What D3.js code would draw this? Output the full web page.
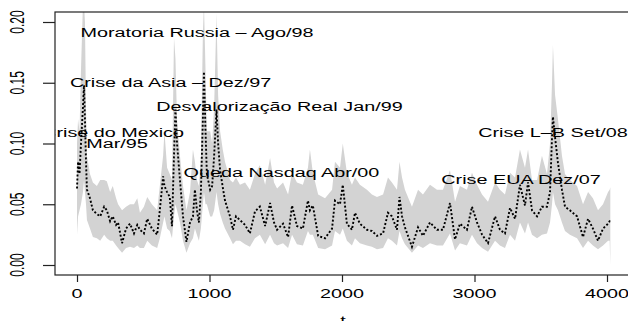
<!DOCTYPE html>
<html>
<head>
<meta charset="utf-8">
<script src="https://cdn.jsdelivr.net/npm/d3@7"></script>
<style>
  body { margin: 0; background: #fff; }
  svg { display: block; }
  text { font-family: "Liberation Sans", Arial, sans-serif; fill: #000; }
</style>
</head>
<body>
<svg id="vol-vis" width="628" height="321"></svg>
<script>
// time index (days)
const tIndex = [0, 8, 19, 30, 45, 53, 60, 68, 75, 98, 120, 150, 175, 205, 225, 250, 270, 295, 310, 340,
  370, 400, 430, 455, 475, 505, 530, 565, 605, 625, 650, 660, 680, 700, 717, 732, 743, 755, 777, 800,
  826, 853, 875, 890, 905, 920, 935, 950, 958, 970, 980, 1005, 1020, 1035, 1053, 1065, 1080, 1100, 1117, 1155,
  1177, 1200, 1230, 1268, 1305, 1343, 1380, 1420, 1457, 1487, 1510, 1555, 1593, 1623, 1660, 1705, 1743, 1758, 1780, 1820,
  1872, 1925, 1947, 1985, 2006, 2037, 2075, 2098, 2135, 2188, 2226, 2264, 2310, 2347, 2377, 2415, 2434, 2453, 2475, 2528,
  2574, 2611, 2664, 2717, 2762, 2815, 2853, 2890, 2943, 2981, 3019, 3057, 3102, 3155, 3192, 3230, 3268, 3306, 3343, 3381,
  3404, 3434, 3472, 3509, 3547, 3570, 3585, 3592, 3608, 3630, 3660, 3683, 3720, 3774, 3819, 3857, 3894, 3932, 3970, 4008,
  4020, 4025];

// estimated volatility (dotted line)
const volMid = [0.063, 0.085, 0.075, 0.100, 0.130, 0.148, 0.120, 0.085, 0.062, 0.055, 0.045, 0.042, 0.040, 0.048, 0.045, 0.036, 0.040, 0.033, 0.035, 0.018,
  0.030, 0.034, 0.026, 0.033, 0.029, 0.026, 0.038, 0.030, 0.025, 0.045, 0.073, 0.065, 0.060, 0.056, 0.032, 0.090, 0.128, 0.100, 0.070, 0.040,
  0.019, 0.035, 0.040, 0.062, 0.045, 0.035, 0.060, 0.120, 0.159, 0.110, 0.075, 0.062, 0.065, 0.090, 0.128, 0.100, 0.078, 0.064, 0.053, 0.040,
  0.029, 0.040, 0.037, 0.033, 0.026, 0.044, 0.048, 0.032, 0.051, 0.035, 0.029, 0.034, 0.023, 0.049, 0.032, 0.030, 0.053, 0.045, 0.049, 0.024,
  0.022, 0.030, 0.053, 0.050, 0.066, 0.034, 0.029, 0.043, 0.034, 0.029, 0.028, 0.024, 0.026, 0.043, 0.040, 0.029, 0.056, 0.040, 0.031, 0.015,
  0.031, 0.024, 0.035, 0.029, 0.029, 0.051, 0.021, 0.034, 0.029, 0.048, 0.035, 0.025, 0.018, 0.040, 0.029, 0.026, 0.047, 0.038, 0.066, 0.049,
  0.068, 0.045, 0.040, 0.048, 0.048, 0.060, 0.105, 0.122, 0.105, 0.084, 0.062, 0.048, 0.045, 0.040, 0.023, 0.038, 0.030, 0.020, 0.030, 0.034,
  0.036, 0.036];

// lower and upper limits (grey band)
const volLow = [0.025, 0.040, 0.045, 0.050, 0.060, 0.070, 0.060, 0.050, 0.037, 0.030, 0.023, 0.022, 0.020, 0.025, 0.022, 0.020, 0.020, 0.016, 0.014, 0.010,
  0.014, 0.015, 0.014, 0.016, 0.014, 0.014, 0.020, 0.016, 0.014, 0.022, 0.035, 0.040, 0.030, 0.028, 0.022, 0.040, 0.050, 0.045, 0.035, 0.020,
  0.010, 0.018, 0.022, 0.030, 0.025, 0.020, 0.030, 0.050, 0.060, 0.050, 0.050, 0.040, 0.040, 0.045, 0.060, 0.050, 0.042, 0.035, 0.030, 0.022,
  0.017, 0.020, 0.020, 0.017, 0.015, 0.022, 0.025, 0.017, 0.025, 0.018, 0.016, 0.018, 0.014, 0.025, 0.017, 0.016, 0.028, 0.025, 0.025, 0.014,
  0.013, 0.016, 0.028, 0.025, 0.030, 0.020, 0.016, 0.022, 0.018, 0.016, 0.015, 0.013, 0.014, 0.022, 0.020, 0.016, 0.028, 0.022, 0.017, 0.010,
  0.016, 0.014, 0.018, 0.016, 0.016, 0.026, 0.012, 0.018, 0.016, 0.025, 0.018, 0.014, 0.011, 0.020, 0.016, 0.014, 0.025, 0.020, 0.035, 0.026,
  0.035, 0.025, 0.022, 0.025, 0.026, 0.035, 0.050, 0.060, 0.050, 0.045, 0.035, 0.028, 0.025, 0.022, 0.014, 0.020, 0.016, 0.013, 0.016, 0.020,
  0.020, 0.000];

const volHigh = [0.100, 0.120, 0.110, 0.160, 0.215, 0.215, 0.200, 0.130, 0.090, 0.075, 0.068, 0.065, 0.070, 0.070, 0.069, 0.060, 0.065, 0.055, 0.050, 0.045,
  0.048, 0.050, 0.050, 0.055, 0.043, 0.048, 0.056, 0.050, 0.045, 0.065, 0.090, 0.110, 0.080, 0.075, 0.070, 0.187, 0.170, 0.120, 0.090, 0.065,
  0.045, 0.060, 0.095, 0.085, 0.070, 0.065, 0.090, 0.190, 0.215, 0.160, 0.110, 0.110, 0.100, 0.130, 0.207, 0.140, 0.110, 0.095, 0.085, 0.070,
  0.068, 0.072, 0.066, 0.068, 0.062, 0.075, 0.082, 0.066, 0.088, 0.068, 0.063, 0.068, 0.058, 0.076, 0.068, 0.066, 0.080, 0.095, 0.076, 0.058,
  0.055, 0.062, 0.085, 0.080, 0.100, 0.076, 0.066, 0.072, 0.066, 0.062, 0.058, 0.056, 0.058, 0.072, 0.068, 0.062, 0.085, 0.072, 0.062, 0.048,
  0.062, 0.058, 0.066, 0.062, 0.062, 0.078, 0.052, 0.065, 0.062, 0.076, 0.066, 0.058, 0.052, 0.068, 0.062, 0.058, 0.076, 0.072, 0.095, 0.080,
  0.095, 0.070, 0.070, 0.090, 0.075, 0.100, 0.150, 0.181, 0.140, 0.120, 0.090, 0.075, 0.070, 0.065, 0.050, 0.060, 0.055, 0.045, 0.050, 0.060,
  0.062, 0.064];

// event annotations
const noteText = ["Moratoria Russia – Ago/98", "Crise da Asia – Dez/97", "Desvalorização Real Jan/99",
  "Crise do Mexico", "Mar/95", "Queda Nasdaq Abr/00", "Crise EUA Dez/07", "Crise L–B Set/08"];
const noteT = [906, 706, 1528, 272, 302, 1543, 3351, 3592];
const noteV = [0.191, 0.150, 0.130, 0.109, 0.100, 0.076, 0.070, 0.109];

const xTicks = [0, 1000, 2000, 3000, 4000];
const yTicks = [0, 0.05, 0.10, 0.15, 0.20];

const svg = d3.select("svg#vol-vis");
const box = { left: 55, right: 632, top: 12, bottom: 275 };
const FONT = 12;     // px
const SX = 1.65;     // the picture is stretched sideways

const scaleX = d3.scaleLinear().domain([0, 4000]).range([77, 607]);
const scaleY = d3.scaleLinear().domain([0, 0.2]).range([265, 22]);

const data = tIndex.map((t, i) => ({ t: t, m: volMid[i], lo: volLow[i], hi: volHigh[i] }));

svg.append("clipPath").attr("id", "plot-clip")
  .append("rect")
  .attr("x", box.left).attr("y", box.top)
  .attr("width", box.right - box.left).attr("height", box.bottom - box.top);

const plot = svg.append("g").attr("clip-path", "url(#plot-clip)");

const band = d3.area()
  .x(d => scaleX(d.t))
  .y0(d => scaleY(d.lo))
  .y1(d => scaleY(d.hi));

plot.append("path")
  .datum(data)
  .attr("d", band)
  .attr("fill", "#d3d3d3");

const line = d3.line()
  .x(d => scaleX(d.t))
  .y(d => scaleY(d.m));

plot.append("path")
  .datum(data)
  .attr("d", line)
  .attr("fill", "none")
  .attr("stroke", "#000")
  .attr("stroke-width", 1.9)
  .attr("stroke-dasharray", "2,2");

// stretched text helper
function label(g, x, y, str, rot) {
  return g.append("text")
    .attr("transform", `translate(${x},${y}) scale(${SX},1)` + (rot ? " rotate(-90)" : ""))
    .attr("text-anchor", "middle")
    .attr("font-size", FONT + "px")
    .text(str);
}

noteText.forEach((s, i) => {
  label(plot, scaleX(noteT[i]), scaleY(noteV[i]) + 4, s, false);
});

// axes
const xAxis = d3.axisBottom(scaleX).tickValues(xTicks).tickSize(7).tickFormat("");
svg.append("g").attr("id", "x-axis")
  .attr("transform", `translate(0 ${box.bottom})`)
  .call(xAxis)
  .call(g => g.select(".domain").remove());

const yAxis = d3.axisLeft(scaleY).tickValues(yTicks).tickSize(12).tickFormat("");
svg.append("g").attr("id", "y-axis")
  .attr("transform", `translate(${box.left} 0)`)
  .call(yAxis)
  .call(g => g.select(".domain").remove());

svg.selectAll(".tick line").attr("stroke", "#222").attr("stroke-width", 1.2);

xTicks.forEach(v => label(svg, scaleX(v), 298, d3.format("d")(v), false));
yTicks.forEach(v => label(svg, 24, scaleY(v), d3.format(".2f")(v), true));

label(svg, 343, 325, "t", false);

// box
svg.append("rect")
  .attr("x", box.left).attr("y", box.top)
  .attr("width", box.right - box.left).attr("height", box.bottom - box.top)
  .attr("fill", "none")
  .attr("stroke", "#222")
  .attr("stroke-width", 1.2);
</script>
</body>
</html>
